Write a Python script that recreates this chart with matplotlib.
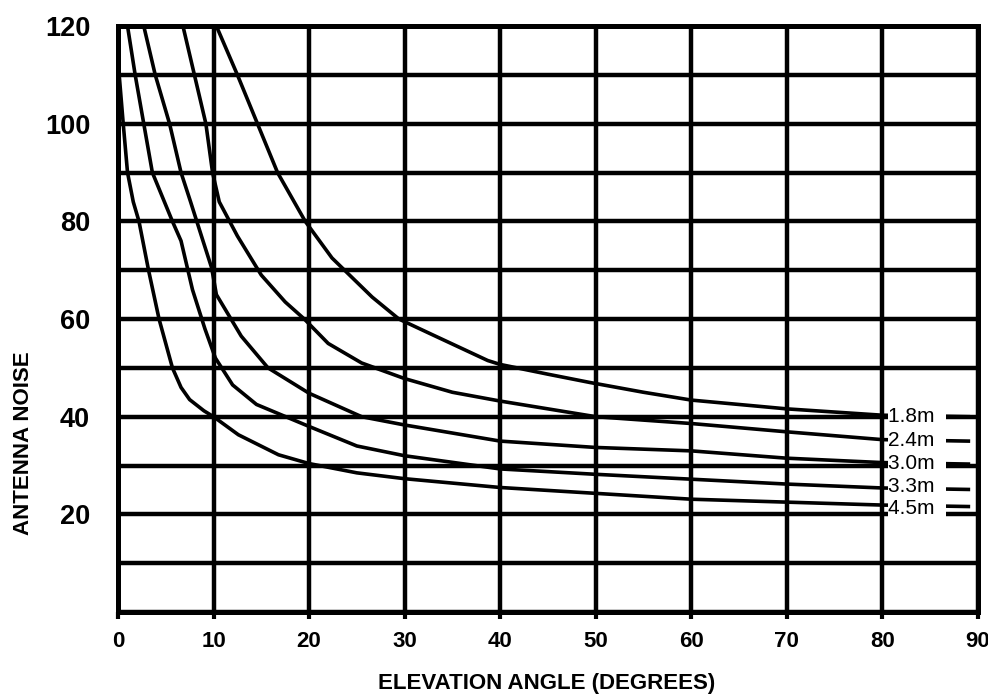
import matplotlib
matplotlib.use('Agg')
import numpy as np
from matplotlib import pyplot as plt

# antenna noise vs elevation angle, one curve per dish diameter
dish_names = ['1.8m', '2.4m', '3.0m', '3.3m', '4.5m']

angle_18 = [10.3, 12.5, 14.6, 16.7, 19.6, 22.4, 24.5, 26.6, 29.4, 33, 38.7, 40, 45, 49.4, 55, 60, 70, 80, 89]
noise_18 = [120, 110, 100, 90, 80, 72.5, 68.5, 64.5, 60, 56.7, 51.5, 50.7, 48.7, 47, 45, 43.4, 41.6, 40.3, 40]

angle_24 = [6.8, 8.0, 9.2, 9.9, 10.6, 12.5, 15, 17.5, 19.5, 22, 25.5, 30, 35, 40, 50, 60, 70, 80, 89]
noise_24 = [120, 110, 100, 90, 84, 77, 69, 63.5, 60, 55, 51, 47.8, 45, 43.2, 40, 38.6, 36.9, 35.3, 35]

angle_30 = [2.7, 3.9, 5.4, 6.6, 7.6, 8.9, 9.8, 10.3, 12.9, 15.7, 20, 25.5, 30, 40, 50, 60, 70, 80, 89]
noise_30 = [120, 110, 100, 90, 84, 76, 70.5, 65, 56.5, 50, 44.8, 40, 38.3, 35, 33.7, 33, 31.5, 30.6, 30.3]

angle_33 = [1.0, 1.8, 2.7, 3.6, 5.7, 6.6, 7.8, 9.1, 10.2, 12, 14.5, 20, 25, 30, 40, 50, 60, 70, 80, 89]
noise_33 = [120, 110, 100, 90, 80, 76, 66, 58, 52, 46.5, 42.5, 38, 34, 32, 29.3, 28.2, 27.2, 26.2, 25.4, 25.1]

angle_45 = [0, 0.55, 1.0, 1.6, 2.2, 3.2, 4.3, 5.7, 6.6, 7.5, 9.0, 10, 12.6, 16.8, 20, 25, 30, 40, 50, 60, 70, 80, 89]
noise_45 = [113, 100, 90, 84, 80, 70, 60, 50, 46, 43.5, 41.2, 40, 36.3, 32.2, 30.4, 28.5, 27.3, 25.5, 24.3, 23.1, 22.5, 21.9, 21.6]

x_ticks = [0, 10, 20, 30, 40, 50, 60, 70, 80, 90]
y_ticks = [0, 10, 20, 30, 40, 50, 60, 70, 80, 90, 100, 110, 120]
y_tick_labels = ['', '', '20', '', '40', '', '60', '', '80', '', '100', '', '120']

curves = [(angle_18, noise_18), (angle_24, noise_24), (angle_30, noise_30),
          (angle_33, noise_33), (angle_45, noise_45)]

# small vertical nudges so the stacked labels don't collide
label_nudge = [-0.3, -0.1, -0.1, 0.3, -0.6]

fig = plt.figure(figsize=(9.88, 7.0), dpi=100)
ax = fig.add_axes([0.1194, 0.1257, 0.8704, 0.8371])

ax.set_xlim(0, 90)
ax.set_ylim(0, 120)
ax.set_xticks(x_ticks)
ax.set_yticks(y_ticks)
ax.set_yticklabels(y_tick_labels)

# heavy black grid like the printed chart
ax.set_axisbelow(True)
ax.grid(True, color='black', linewidth=3.2)
for side in ax.spines.values():
    side.set_linewidth(3.6)

for angle, noise in curves:
    ax.plot(angle, noise, color='black', linewidth=2.6, zorder=2)

# dish labels sit on the curves just right of 80 degrees, white box hides the line
for name, (angle, noise), dy in zip(dish_names, curves, label_nudge):
    ax.text(80.6, np.interp(80, angle, noise) + dy, name + '  ', fontsize=15,
            family='Liberation Sans', ha='left', va='center', zorder=4,
            bbox=dict(facecolor='white', edgecolor='none', pad=0.2))

ax.tick_params(axis='y', length=0, pad=20, labelsize=19.5)
ax.tick_params(axis='x', length=5, width=3, direction='out', pad=9, labelsize=16)
for lbl in ax.get_xticklabels() + ax.get_yticklabels():
    lbl.set_family('Liberation Sans')
    lbl.set_fontweight('bold')

fig.text(0.553, 0.024, 'ELEVATION ANGLE (DEGREES)', ha='center', va='center',
         fontsize=16, fontweight='bold', family='Liberation Sans')
fig.text(0.024, 0.367, 'ANTENNA NOISE', rotation=90, ha='center', va='center',
         fontsize=16, fontweight='bold', family='Liberation Sans')

fig.savefig('out.png', dpi=100, facecolor='white')
